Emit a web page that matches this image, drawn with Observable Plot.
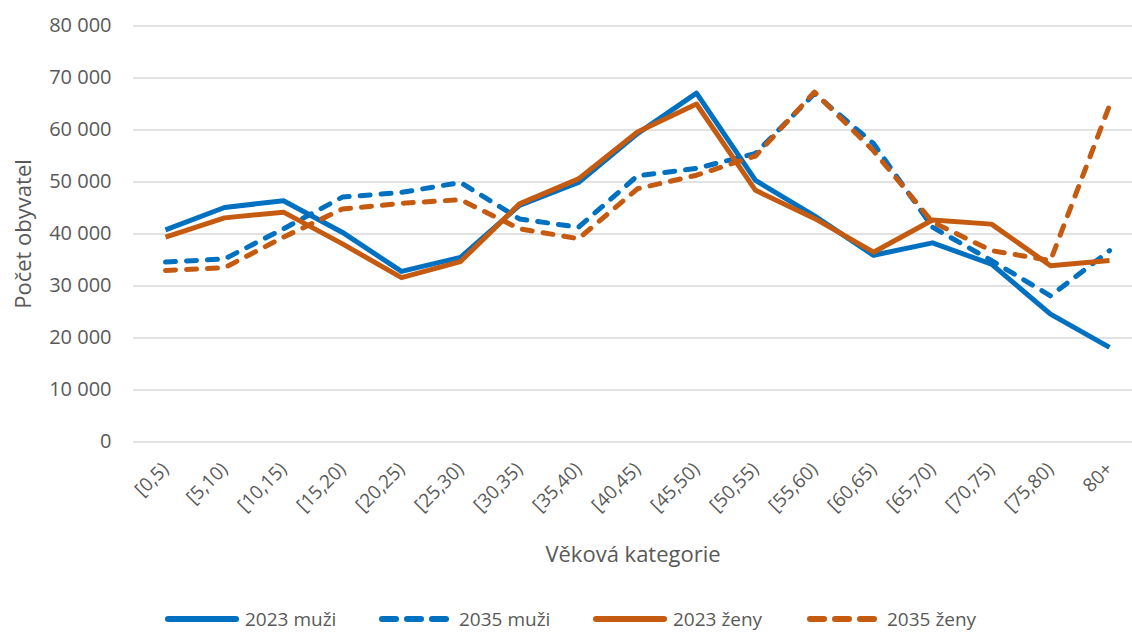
<!DOCTYPE html>
<html>
<head>
<meta charset="utf-8">
<script src="https://cdn.jsdelivr.net/npm/d3@7"></script>
<script src="https://cdn.jsdelivr.net/npm/@observablehq/plot@0.6"></script>
<style>
  html, body { margin: 0; padding: 0; background: #fff; }
  body { width: 1132px; height: 633px; overflow: hidden; font-family: "Open Sans", sans-serif; color: #595959; position: relative; }
  #legend { position: absolute; left: 165px; top: 607px; display: flex; height: 24px; align-items: center; }
  .item { display: flex; align-items: center; width: 214px; font-size: 19px; line-height: 22px; color: #595959; white-space: nowrap; }
  .item svg { margin-right: 6px; flex: none; }
</style>
</head>
<body>
<div id="chart"></div>
<div id="legend"></div>
<script>
const categories = ["[0,5)","[5,10)","[10,15)","[15,20)","[20,25)","[25,30)","[30,35)","[35,40)","[40,45)","[45,50)","[50,55)","[55,60)","[60,65)","[65,70)","[70,75)","[75,80)","80+"];
const muzi2023 = [40800, 45100, 46400, 40300, 32800, 35500, 45500, 49900, 59300, 67100, 50300, 43500, 35900, 38300, 34200, 24600, 18200];
const muzi2035 = [34600, 35200, 41000, 47100, 48000, 49900, 42900, 41300, 51200, 52600, 55500, 67000, 57400, 41300, 34900, 28100, 36800];
const zeny2023 = [39400, 43100, 44200, 38100, 31600, 34700, 45800, 50600, 59600, 65000, 48400, 43000, 36500, 42700, 41900, 33900, 34900];
const zeny2035 = [33000, 33500, 39400, 44800, 45900, 46600, 41000, 39100, 48700, 51300, 55000, 67300, 56000, 42300, 36800, 34900, 64700];
const yTicks = [0, 10000, 20000, 30000, 40000, 50000, 60000, 70000, 80000];

const series = [
  {name: "2023 muži", values: muzi2023, color: "#0070C0", dash: null},
  {name: "2035 muži", values: muzi2035, color: "#0070C0", dash: "10,11"},
  {name: "2023 ženy", values: zeny2023, color: "#C55A11", dash: null},
  {name: "2035 ženy", values: zeny2035, color: "#C55A11", dash: "10,11"}
];

const rows = s => categories.map((c, i) => ({cat: c, value: s.values[i]}));
const fmt = d => d3.format(",")(d).replace(/,/g, " ");

const chart = Plot.plot({
  width: 1132,
  height: 595,
  marginTop: 25.5,
  marginBottom: 153.5,
  marginLeft: 133,
  marginRight: 0,
  style: {fontFamily: "'Open Sans', sans-serif", fontSize: "19px", color: "#595959", background: "#fff"},
  x: {type: "point", domain: categories, padding: 0, insetLeft: 29, insetRight: 21},
  y: {domain: [0, 80000]},
  marks: [
    Plot.gridY(yTicks, {stroke: "#d9d9d9", strokeOpacity: 1, strokeWidth: 1.5}),
    Plot.axisY(yTicks, {tickSize: 0, tickPadding: 22, tickFormat: fmt, fontSize: 20, fill: "#595959",
      label: "Počet obyvatel", labelAnchor: "center", labelArrow: "none", labelOffset: 118}),
    Plot.axisX({tickSize: 0, tickPadding: 24, tickRotate: -45, fontSize: 19, fill: "#595959",
      label: "Věková kategorie", labelAnchor: "center", labelArrow: "none", labelOffset: 120}),
    ...series.map(s => Plot.line(rows(s), {x: "cat", y: "value", stroke: s.color, strokeWidth: 5,
      strokeDasharray: s.dash, strokeLinecap: s.dash ? "round" : "butt", strokeLinejoin: "round"}))
  ]
});
document.getElementById("chart").appendChild(chart);

chart.querySelectorAll("[aria-label='y-axis label'] text, [aria-label='x-axis label'] text").forEach(t => t.setAttribute("font-size", "22"));

const legend = document.getElementById("legend");
series.forEach(s => {
  const div = document.createElement("div");
  div.className = "item";
  div.innerHTML = `<svg width="74" height="10"><line x1="3" y1="5" x2="71" y2="5" stroke="${s.color}" stroke-width="6" stroke-linecap="round" ${s.dash ? 'stroke-dasharray="14,11"' : ''}/></svg><span>${s.name}</span>`;
  legend.appendChild(div);
});
</script>
</body>
</html>
